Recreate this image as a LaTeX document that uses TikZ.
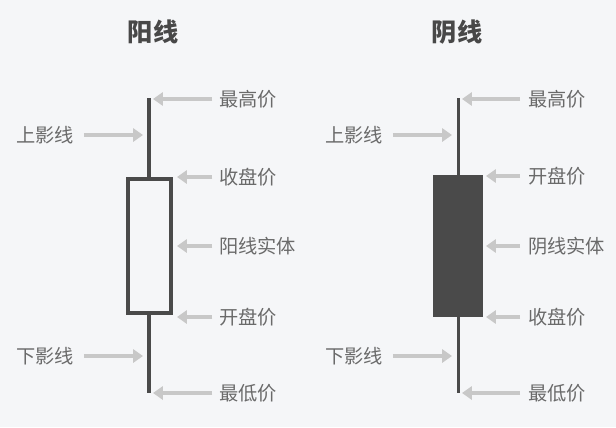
\documentclass[tikz,border=0pt]{standalone}
\usepackage{fontspec}
\setmainfont{Noto Sans CJK SC}
\usetikzlibrary{arrows.meta}
\definecolor{bgc}{HTML}{F5F6F8}
\definecolor{stick}{HTML}{4A4A4A}
\definecolor{pointer}{HTML}{C8C8C8}
\definecolor{labelc}{HTML}{6A6A6A}
\definecolor{titlec}{HTML}{484848}

\begin{document}
\begin{tikzpicture}[x=0.0265cm, y=-0.0265cm, font=\fontsize{14.5}{16}\selectfont,
  lbl/.style={text=labelc, inner sep=0pt},
  ttl/.style={text=titlec, inner sep=0pt, font=\fontsize{19}{22}\selectfont\bfseries},
  ptr/.style={draw=pointer, line width=3pt, -{Triangle[width=10pt, length=7.5pt]}},
  wick/.style={draw=stick, line width=3pt}]
  \fill[bgc] (0,0) rectangle (616,427);
  \useasboundingbox (0,0) rectangle (616,427);
  % titles
  \node[ttl] (yangtitle) at (153,32) {阳线};
  \node[ttl] (yintitle) at (457,32) {阴线};
  % yang candle (hollow)
  \coordinate (yanghigh) at (149,98);
  \coordinate (yangtop) at (149,177);
  \coordinate (yangbot) at (149,315);
  \coordinate (yanglow) at (149,393);
  \draw[wick] (yanghigh) -- (yangtop);
  \draw[wick] (yangbot) -- (yanglow);
  \draw[wick] (128,179) rectangle (171,313);
  % yin candle (filled)
  \coordinate (yinhigh) at (458.5,98);
  \coordinate (yintop) at (458.5,176);
  \coordinate (yinbot) at (458.5,317);
  \coordinate (yinlow) at (458.5,393);
  \draw[wick] (yinhigh) -- (yintop);
  \draw[wick] (yinbot) -- (yinlow);
  \fill[stick] (433,175) rectangle (483,317);
  % yang labels
  \node[lbl, anchor=west] (yanghighlbl) at (219,99) {最高价};
  \node[lbl, anchor=west] (yangcloselbl) at (219,177) {收盘价};
  \node[lbl, anchor=west] (yangbodylbl) at (219,246) {阳线实体};
  \node[lbl, anchor=west] (yangopenlbl) at (219,317) {开盘价};
  \node[lbl, anchor=west] (yanglowlbl) at (219,393) {最低价};
  \node[lbl, anchor=east] (yangupperlbl) at (74,135) {上影线};
  \node[lbl, anchor=east] (yanglowerlbl) at (74,356) {下影线};
  \coordinate (yangtip1) at (153,99);
  \coordinate (yangtip2) at (177,177);
  \coordinate (yangtip3) at (177,246);
  \coordinate (yangtip4) at (177,317);
  \coordinate (yangtip5) at (153,393);
  \coordinate (yangtip6) at (143,135);
  \coordinate (yangtip7) at (143,356);
  \draw[ptr] ([xshift=-5pt]yanghighlbl.west) -- (yangtip1);
  \draw[ptr] ([xshift=-5pt]yangcloselbl.west) -- (yangtip2);
  \draw[ptr] ([xshift=-5pt]yangbodylbl.west) -- (yangtip3);
  \draw[ptr] ([xshift=-5pt]yangopenlbl.west) -- (yangtip4);
  \draw[ptr] ([xshift=-5pt]yanglowlbl.west) -- (yangtip5);
  \draw[ptr] ([xshift=7.5pt]yangupperlbl.east) -- (yangtip6);
  \draw[ptr] ([xshift=7.5pt]yanglowerlbl.east) -- (yangtip7);
  % yin labels
  \node[lbl, anchor=west] (yinhighlbl) at (528,99) {最高价};
  \node[lbl, anchor=west] (yinopenlbl) at (528,176) {开盘价};
  \node[lbl, anchor=west] (yinbodylbl) at (528,246) {阴线实体};
  \node[lbl, anchor=west] (yincloselbl) at (528,317) {收盘价};
  \node[lbl, anchor=west] (yinlowlbl) at (528,393) {最低价};
  \node[lbl, anchor=east] (yinupperlbl) at (383,135) {上影线};
  \node[lbl, anchor=east] (yinlowerlbl) at (383,356) {下影线};
  \coordinate (yintip1) at (462,99);
  \coordinate (yintip2) at (486,176);
  \coordinate (yintip3) at (486,246);
  \coordinate (yintip4) at (486,317);
  \coordinate (yintip5) at (462,393);
  \coordinate (yintip6) at (452,135);
  \coordinate (yintip7) at (452,356);
  \draw[ptr] ([xshift=-6pt]yinhighlbl.west) -- (yintip1);
  \draw[ptr] ([xshift=-6pt]yinopenlbl.west) -- (yintip2);
  \draw[ptr] ([xshift=-6pt]yinbodylbl.west) -- (yintip3);
  \draw[ptr] ([xshift=-6pt]yincloselbl.west) -- (yintip4);
  \draw[ptr] ([xshift=-6pt]yinlowlbl.west) -- (yintip5);
  \draw[ptr] ([xshift=7.5pt]yinupperlbl.east) -- (yintip6);
  \draw[ptr] ([xshift=7.5pt]yinlowerlbl.east) -- (yintip7);
\end{tikzpicture}
\end{document}
